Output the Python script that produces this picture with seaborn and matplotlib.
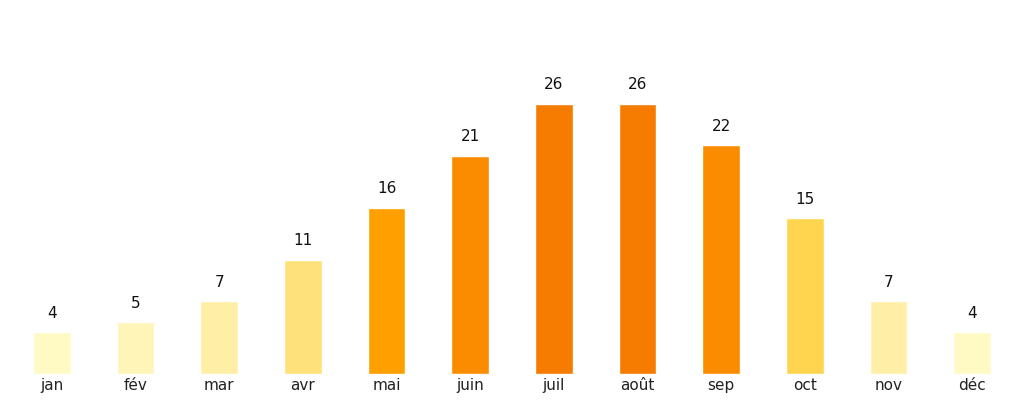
import matplotlib
matplotlib.use('Agg')
import matplotlib.pyplot as plt
import seaborn as sns
import pandas as pd

months = ['jan', 'fév', 'mar', 'avr', 'mai', 'juin', 'juil', 'août', 'sep', 'oct', 'nov', 'déc']
values = [4, 5, 7, 11, 16, 21, 26, 26, 22, 15, 7, 4]
colors = ['#FFF9C4', '#FFF5B8', '#FFEEA6', '#FFE17C', '#FFA000', '#FB8C00', '#F57C00',
          '#F57C00', '#FB8C00', '#FFD54F', '#FFEEA6', '#FFF9C4']

sns.set_style('white')
df = pd.DataFrame({'month': months, 'value': values})

fig = plt.figure(figsize=(10.24, 4.04), dpi=100)
ax = fig.add_axes([0, 30 / 404, 1, 374 / 404])
sns.barplot(data=df, x='month', y='value', hue='month', palette=colors, legend=False,
            width=0.45, ax=ax, saturation=1)

for i, v in enumerate(values):
    ax.text(i, v + 1.1, str(v), ha='center', va='bottom', fontsize=11, color='#111111')

ax.set_xlim(-0.62, 11.62)
ax.set_ylim(0, 36)
ax.set_xlabel('')
ax.set_ylabel('')
ax.set_yticks([])
ax.tick_params(axis='x', length=0, labelsize=11, colors='#222222', pad=3)
sns.despine(ax=ax, left=True, bottom=True)

fig.savefig('out.png', dpi=100)
